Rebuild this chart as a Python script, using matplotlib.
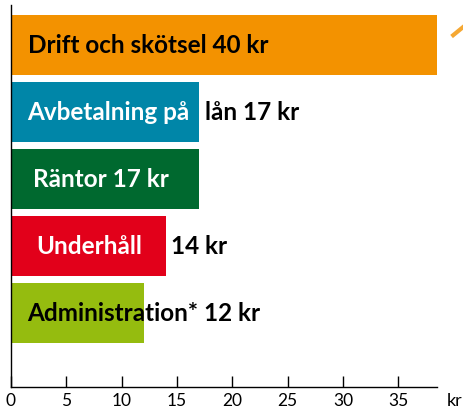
import matplotlib.pyplot as plt
from matplotlib.lines import Line2D

# kostnader per kategori (kr)
categories = ["Drift och skötsel", "Avbetalning på lån", "Räntor", "Underhåll", "Administration*"]
values = [40, 17, 17, 14, 12]
colors = ["#F39200", "#0086A8", "#00692F", "#E2001A", "#95BC0F"]

# text inne i stapeln / utanför stapeln
inner_text = ["Drift och skötsel 40 kr", "Avbetalning på", "Räntor 17 kr", "Underhåll", "Administration* 12 kr"]
inner_color = ["black", "white", "white", "white", "black"]
inner_x = [1.5, 1.5, 2.0, 2.3, 1.5]
outer_text = ["", "lån 17 kr", "", "14 kr", ""]

xticks = [0, 5, 10, 15, 20, 25, 30, 35]

plt.rcParams['font.family'] = ['Lato', 'DejaVu Sans']

fig = plt.figure(figsize=(4.64, 4.11), dpi=100)
ax = fig.add_axes([11 / 464, 24 / 411, 426 / 464, 382 / 411])

pos = list(range(len(values)))
ax.barh(pos, values, height=0.9, color=colors)

for i in pos:
    ax.text(inner_x[i], i, inner_text[i], color=inner_color[i], fontsize=17.5,
            fontweight='bold', va='center', ha='left')
    if outer_text[i]:
        ax.text(values[i] + 0.5, i, outer_text[i], color='black', fontsize=17.5,
                fontweight='bold', va='center', ha='left')

ax.set_xlim(0, 38.5)
ax.set_ylim(5.1, -0.6)
ax.set_xticks(xticks)
ax.set_yticks([])
ax.tick_params(axis='x', direction='in', length=8, width=1, labelsize=12.5, pad=4)
for s in ['top', 'right']:
    ax.spines[s].set_visible(False)
ax.spines['left'].set_linewidth(1)
ax.spines['bottom'].set_linewidth(1)

ax.text(1.042, -0.036, "kr", transform=ax.transAxes, fontsize=13, ha='center', va='center')

# brytmarkering för stapeln som går utanför skalan
ax.add_line(Line2D([1.038, 1.061], [0.921, 0.942], transform=ax.transAxes,
                   color="#F39200", lw=3, alpha=0.8, clip_on=False))

fig.savefig("out.png", dpi=100)
